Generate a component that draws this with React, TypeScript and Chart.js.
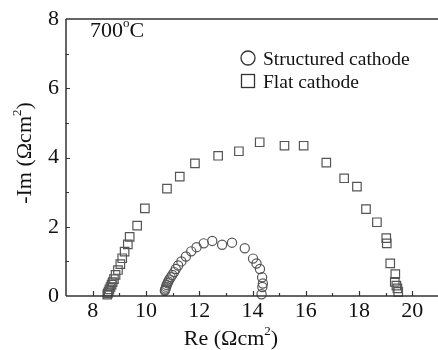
import { useEffect, useRef } from "react";
import { Chart, registerables } from "chart.js";

Chart.register(...registerables);

// Structured cathode (circles)
const structuredRe = [10.71, 10.72, 10.74, 10.76, 10.78, 10.81, 10.84, 10.88, 10.93, 10.99, 11.06, 11.12, 11.21, 11.33, 11.5, 11.7, 11.9, 12.17, 12.49, 12.86, 13.23, 13.71, 14.02, 14.15, 14.28, 14.36, 14.39, 14.37, 14.34];
const structuredIm = [0.15, 0.18, 0.22, 0.27, 0.32, 0.37, 0.42, 0.48, 0.54, 0.61, 0.69, 0.78, 0.88, 1.0, 1.14, 1.29, 1.41, 1.52, 1.59, 1.48, 1.54, 1.38, 1.08, 0.94, 0.78, 0.54, 0.36, 0.26, 0.05];

// Flat cathode (squares)
const flatRe = [8.55, 8.57, 8.6, 8.63, 8.67, 8.71, 8.75, 8.8, 8.86, 8.95, 9.04, 9.11, 9.2, 9.32, 9.39, 9.67, 9.96, 10.79, 11.27, 11.84, 12.71, 13.49, 14.27, 15.2, 15.92, 16.77, 17.44, 17.92, 18.26, 18.67, 19.02, 19.04, 19.17, 19.36, 19.34, 19.4, 19.44, 19.47];
const flatIm = [0.04, 0.08, 0.13, 0.19, 0.26, 0.33, 0.4, 0.49, 0.61, 0.75, 0.92, 1.09, 1.28, 1.49, 1.71, 2.03, 2.53, 3.1, 3.45, 3.83, 4.05, 4.18, 4.44, 4.34, 4.34, 3.85, 3.4, 3.16, 2.51, 2.13, 1.67, 1.52, 0.94, 0.63, 0.41, 0.3, 0.22, 0.12];

const xTickLabels = [8, 10, 12, 14, 16, 18, 20];
const yTickLabels = [0, 2, 4, 6, 8];

const FONT = "Liberation Serif";
const TEXT = "#111";
const AXIS = "#333";
const MARK = "#555";

type Seg = { t: string; size: number; dy?: number };

function drawSegs(ctx: CanvasRenderingContext2D, segs: Seg[], x: number, y: number) {
  let cx = x;
  for (const s of segs) {
    ctx.font = `${s.size}px "${FONT}"`;
    ctx.fillText(s.t, cx, y + (s.dy || 0));
    cx += ctx.measureText(s.t).width;
  }
  return cx - x;
}
function segsWidth(ctx: CanvasRenderingContext2D, segs: Seg[]) {
  let w = 0;
  for (const s of segs) {
    ctx.font = `${s.size}px "${FONT}"`;
    w += ctx.measureText(s.t).width;
  }
  return w;
}

const decor = {
  id: "decor",
  afterDatasetsDraw(chart: any) {
    const { ctx, chartArea: a, scales } = chart;
    const xs = scales.x;
    const ys = scales.y;
    ctx.save();
    ctx.strokeStyle = AXIS;
    ctx.lineWidth = 1.5;
    ctx.beginPath();
    ctx.moveTo(a.left, a.top);
    ctx.lineTo(a.right, a.top);
    ctx.moveTo(a.left, a.top);
    ctx.lineTo(a.left, a.bottom);
    ctx.moveTo(a.left, a.bottom);
    ctx.lineTo(a.right, a.bottom);
    ctx.moveTo(a.right, a.top);
    ctx.lineTo(a.right, a.bottom);
    ctx.stroke();

    ctx.lineWidth = 1.2;
    ctx.beginPath();
    for (let v = Math.ceil(xs.min) + 1; v < xs.max; v++) {
      const px = Math.round(xs.getPixelForValue(v)) + 0.5;
      const len = xTickLabels.includes(v) ? 5 : 3;
      ctx.moveTo(px, a.bottom);
      ctx.lineTo(px, a.bottom - len);
    }
    for (let v = 1; v < ys.max; v++) {
      const py = Math.round(ys.getPixelForValue(v)) + 0.5;
      const len = yTickLabels.includes(v) ? 4 : 3;
      ctx.moveTo(a.left, py);
      ctx.lineTo(a.left + len, py);
    }
    ctx.stroke();

    ctx.fillStyle = TEXT;
    ctx.textBaseline = "alphabetic";
    ctx.textAlign = "left";

    // x title
    const xt: Seg[] = [
      { t: "Re (\u03A9cm", size: 22 },
      { t: "2", size: 13, dy: -10 },
      { t: ")", size: 22 },
    ];
    const xw = segsWidth(ctx, xt);
    drawSegs(ctx, xt, 231 - xw / 2, 345);

    // y title
    const yt: Seg[] = [
      { t: "-Im (\u03A9cm", size: 22 },
      { t: "2", size: 13, dy: -10 },
      { t: ")", size: 22 },
    ];
    const yw = segsWidth(ctx, yt);
    ctx.save();
    ctx.translate(31, 153);
    ctx.rotate(-Math.PI / 2);
    drawSegs(ctx, yt, -yw / 2, 0);
    ctx.restore();

    // temperature annotation
    drawSegs(
      ctx,
      [
        { t: "700", size: 22 },
        { t: "o", size: 13, dy: -10 },
        { t: "C", size: 22 },
      ],
      90,
      37
    );

    // legend
    ctx.strokeStyle = "#333";
    ctx.lineWidth = 1.3;
    ctx.beginPath();
    ctx.arc(248, 58, 7, 0, Math.PI * 2);
    ctx.stroke();
    ctx.strokeRect(241.5, 74.5, 13, 13);
    ctx.font = `19.5px "${FONT}"`;
    ctx.fillText("Structured cathode", 263, 65);
    ctx.fillText("Flat cathode", 263, 88);
    ctx.restore();
  },
};

export default function App() {
  const ref = useRef<HTMLCanvasElement>(null);
  useEffect(() => {
    const canvas = ref.current!;
    const chart = new Chart(canvas, {
      type: "scatter",
      data: {
        datasets: [
          {
            label: "Structured cathode",
            data: structuredRe.map((x, i) => ({ x, y: structuredIm[i] })),
            pointStyle: "circle",
            pointRadius: 4.6,
            borderColor: MARK,
            backgroundColor: "rgba(0,0,0,0)",
            borderWidth: 1.2,
            clip: false,
          } as any,
          {
            label: "Flat cathode",
            data: flatRe.map((x, i) => ({ x, y: flatIm[i] })),
            pointStyle: "rect",
            pointRadius: 6,
            borderColor: MARK,
            backgroundColor: "rgba(0,0,0,0)",
            borderWidth: 1.2,
            clip: false,
          } as any,
        ],
      },
      options: {
        responsive: false,
        animation: false,
        devicePixelRatio: 1,
        layout: { autoPadding: false, padding: { left: 0, top: 19, right: 3, bottom: 0 } },
        plugins: { legend: { display: false }, tooltip: { enabled: false } },
        scales: {
          x: {
            type: "linear",
            min: 7,
            max: 21,
            grid: { display: false, drawTicks: false },
            border: { display: false },
            ticks: {
              stepSize: 1,
              autoSkip: false,
              maxRotation: 0,
              padding: 2,
              color: TEXT,
              font: { family: FONT, size: 22 },
              callback: (v: any) => (xTickLabels.includes(Number(v)) ? String(v) : ""),
            },
            afterFit: (s: any) => {
              s.height = 54;
              s.paddingLeft = 0;
              s.paddingRight = 0;
            },
          },
          y: {
            type: "linear",
            min: 0,
            max: 8,
            grid: { display: false, drawTicks: false },
            border: { display: false },
            ticks: {
              stepSize: 1,
              autoSkip: false,
              padding: 7,
              color: TEXT,
              font: { family: FONT, size: 22 },
              callback: (v: any) => (yTickLabels.includes(Number(v)) ? String(v) : ""),
            },
            afterFit: (s: any) => {
              s.width = 66;
              s.paddingTop = 0;
              s.paddingBottom = 0;
            },
          },
        },
      },
      plugins: [decor],
    } as any);
    return () => chart.destroy();
  }, []);
  return (
    <div
      style={{
        position: "fixed",
        left: 0,
        top: 0,
        width: 438,
        height: 350,
        overflow: "hidden",
        background: "#fff",
      }}
    >
      <div style={{ width: 442, height: 350 }}>
        <canvas ref={ref} width={442} height={350} style={{ display: "block", width: 442, height: 350 }} />
      </div>
    </div>
  );
}
